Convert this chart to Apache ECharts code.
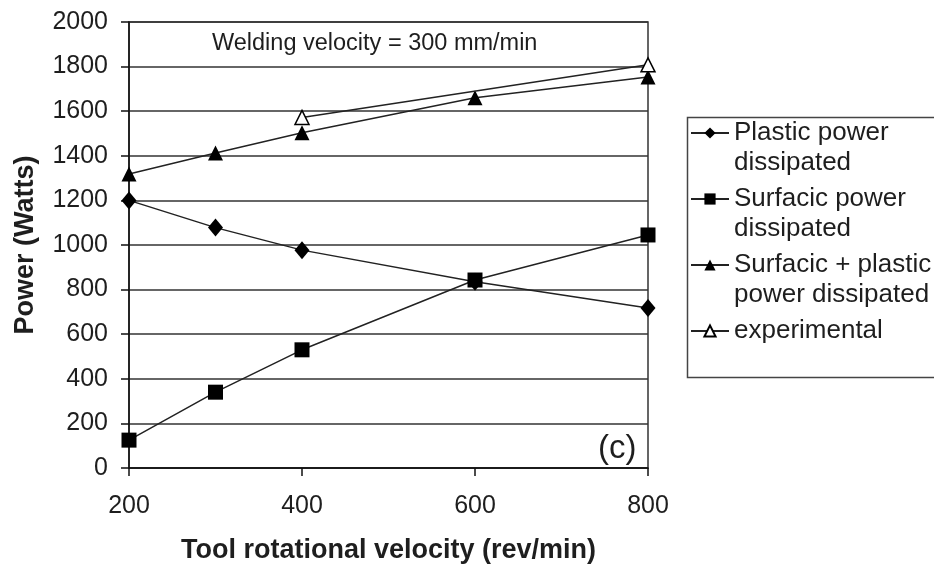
<!DOCTYPE html>
<html>
<head>
<meta charset="utf-8">
<script src="https://cdn.jsdelivr.net/npm/echarts@6/dist/echarts.min.js"></script>
<style>
html,body{margin:0;padding:0;background:#fff;}
#chart{width:934px;height:565px;}
</style>
</head>
<body>
<div id="chart"></div>
<script>
var rpm = [200, 300, 400, 600, 800];
var plastic = [1200, 1078, 977, 835, 717];
var surfacic = [125, 340, 530, 843, 1045];
var combined = [1318, 1413, 1503, 1660, 1753];
var expRpm = [400, 800];
var experimental = [1572, 1808];
var seriesNames = ['Plastic power\ndissipated', 'Surfacic power\ndissipated', 'Surfacic + plastic\npower dissipated', 'experimental'];
var annotation = 'Welding velocity = 300 mm/min';
var panelLabel = '(c)';

function pairs(xs, ys){ return xs.map(function(x,i){ return [x, ys[i]]; }); }

var chart = echarts.init(document.getElementById('chart'), null, {renderer:'canvas'});
var txt = '#1e1e1e';
var font = 'Liberation Sans, Arial, sans-serif';
chart.setOption({
  backgroundColor: '#fff',
  animation: false,
  grid: {left: 129, right: 286, top: 22, bottom: 97, show: true, borderColor: '#333', borderWidth: 1.5,
    containLabel: false, outerBoundsMode: 'none'},
  xAxis: {
    type: 'value', min: 200, max: 800, interval: 200,
    name: 'Tool rotational velocity (rev/min)', nameLocation: 'middle', nameGap: 69,
    nameTextStyle: {fontFamily: font, fontSize: 27, fontWeight: 'bold', color: txt},
    axisLine: {show: true, onZero: false, lineStyle: {color: '#111', width: 1.5}},
    axisTick: {show: true, inside: false, length: 8, lineStyle: {color: '#111', width: 1.5}},
    axisLabel: {fontFamily: font, fontSize: 25, color: txt, margin: 26},
    splitLine: {show: false}
  },
  yAxis: {
    type: 'value', min: 0, max: 2000, interval: 200,
    name: 'Power (Watts)', nameLocation: 'middle', nameGap: 90, nameRotate: 90,
    nameTextStyle: {fontFamily: font, fontSize: 27, fontWeight: 'bold', color: txt},
    axisLine: {show: true, lineStyle: {color: '#111', width: 1.5}},
    axisTick: {show: true, length: 8, lineStyle: {color: '#111', width: 1.5}},
    axisLabel: {fontFamily: font, fontSize: 25, color: txt, margin: 21, formatter: function(v){ return String(v); }},
    splitLine: {show: true, lineStyle: {color: '#333', width: 1.5}}
  },
  legend: {
    orient: 'vertical', left: 690, top: 88,
    padding: 0,
    itemWidth: 38, itemHeight: 14, itemGap: -24,
    textStyle: {fontFamily: font, fontSize: 26, color: txt, lineHeight: 30},
    formatter: function(name){ return name.indexOf('\n') >= 0 ? '\n' + name : '\n' + name + '\n '; },
    data: seriesNames
  },
  graphic: [
    {type: 'rect', left: 685, top: 115, z: 0, shape: {width: 260, height: 260}, style: {fill: 'none', stroke: '#444', lineWidth: 1.5}},
    {type: 'text', left: 212, top: 32, style: {text: annotation, fontFamily: font, fontSize: 23.5, fill: txt}},
    {type: 'text', left: 598, top: 432, style: {text: panelLabel, fontFamily: font, fontSize: 33, fill: txt}}
  ],
  series: [
    {name: seriesNames[0], type: 'line', data: pairs(rpm, plastic), symbol: 'diamond', symbolSize: [15, 18],
      lineStyle: {color: '#222', width: 1.5}, itemStyle: {color: '#000'}, z: 3},
    {name: seriesNames[1], type: 'line', data: pairs(rpm, surfacic), symbol: 'rect', symbolSize: 15,
      lineStyle: {color: '#222', width: 1.5}, itemStyle: {color: '#000'}, z: 3},
    {name: seriesNames[2], type: 'line', data: pairs(rpm, combined), symbol: 'triangle', symbolSize: 15,
      lineStyle: {color: '#222', width: 1.5}, itemStyle: {color: '#000'}, z: 3},
    {name: seriesNames[3], type: 'line', data: pairs(expRpm, experimental), symbol: 'triangle', symbolSize: 14,
      lineStyle: {color: '#222', width: 1.5}, itemStyle: {color: '#fff', borderColor: '#000', borderWidth: 1.5}, z: 4}
  ]
});
</script>
</body>
</html>
